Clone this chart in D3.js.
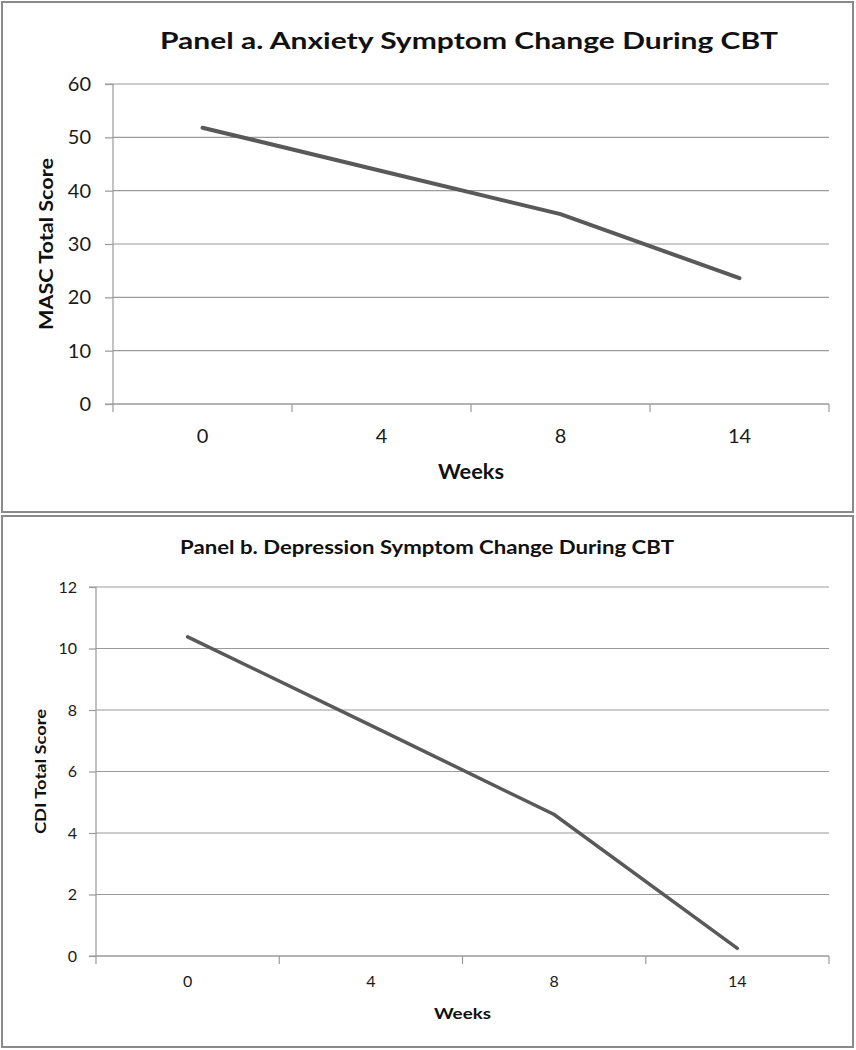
<!DOCTYPE html>
<html><head><meta charset="utf-8">
<script src="https://cdn.jsdelivr.net/npm/d3@7"></script>
<style>body{margin:0;background:#fff}svg{display:block}</style>
</head><body>
<script>
const weeks = ["0","4","8","14"];
const masc = [51.8, 43.7, 35.6, 23.6];
const cdi = [10.38, 7.5, 4.6, 0.25];
const mascTicks = [0,10,20,30,40,50,60];
const cdiTicks = [0,2,4,6,8,10,12];

const svg = d3.select("body").append("svg").attr("width",856).attr("height",1050)
  .style("font-family","Lato, 'Open Sans', sans-serif");

function panel(cfg){
  const g = svg.append("g");
  g.append("rect").attr("x",cfg.box[0]).attr("y",cfg.box[1]).attr("width",cfg.box[2]).attr("height",cfg.box[3])
    .attr("fill","#fff").attr("stroke","#8a8a8a").attr("stroke-width",2);
  const x = d3.scaleBand().domain(cfg.cats).range([cfg.left,cfg.right]);
  const y = d3.scaleLinear().domain([0,cfg.max]).range([cfg.bottom,cfg.top]);
  // gridlines
  g.append("g").selectAll("line").data(cfg.ticks).join("line")
    .attr("x1",cfg.left).attr("x2",cfg.right).attr("y1",d=>y(d)).attr("y2",d=>y(d))
    .attr("stroke","#9a9a9a").attr("stroke-width",1.2);
  // y axis
  const ya = g.append("g").attr("transform",`translate(${cfg.left},0)`)
    .call(d3.axisLeft(y).tickValues(cfg.ticks).tickSize(cfg.tick).tickPadding(cfg.ypad));
  ya.select(".domain").attr("stroke","#9a9a9a").attr("stroke-width",1.2).attr("d",`M-${cfg.tick},${cfg.bottom}H0V${cfg.top}H-${cfg.tick}`);
  ya.selectAll(".tick line").attr("stroke","#9a9a9a").attr("stroke-width",1.2);
  ya.selectAll("text").attr("font-size",cfg.fs).attr("fill","#1a1a1a").style("font-family","Lato, sans-serif");
  // x axis
  const xa = g.append("g").attr("transform",`translate(0,${cfg.bottom})`)
    .call(d3.axisBottom(x).tickSize(0).tickPadding(cfg.xpad));
  xa.select(".domain").remove();
  xa.selectAll("text").attr("font-size",cfg.fs).attr("fill","#1a1a1a").style("font-family","Lato, sans-serif");
  const bounds = cfg.cats.map(c=>x(c)).concat([cfg.right]);
  g.append("line").attr("x1",cfg.left).attr("x2",cfg.right).attr("y1",cfg.bottom).attr("y2",cfg.bottom)
    .attr("stroke","#9a9a9a").attr("stroke-width",1.2);
  g.append("g").selectAll("line").data(bounds).join("line")
    .attr("x1",d=>d).attr("x2",d=>d).attr("y1",cfg.bottom).attr("y2",cfg.bottom+8)
    .attr("stroke","#9a9a9a").attr("stroke-width",1.2);
  // line
  const line = d3.line().x((d,i)=>x(cfg.cats[i])+x.bandwidth()/2).y(d=>y(d));
  g.append("path").datum(cfg.vals).attr("d",line).attr("fill","none")
    .attr("stroke","#595959").attr("stroke-width",cfg.lw).attr("stroke-linecap","round");
  // titles
  g.append("text").attr("x",cfg.titleX).attr("y",cfg.titleY).attr("text-anchor","middle")
    .attr("font-weight","bold").attr("font-size",cfg.tfs).attr("fill","#111")
    .attr("textLength",cfg.titleW).attr("lengthAdjust","spacingAndGlyphs").text(cfg.title);
  g.append("text").attr("x",(cfg.left+cfg.right)/2).attr("y",cfg.xtY).attr("text-anchor","middle")
    .attr("font-weight","bold").attr("font-size",cfg.afs).attr("fill","#111")
    .attr("textLength",cfg.xtW).attr("lengthAdjust","spacingAndGlyphs").text("Weeks");
  g.append("text").attr("transform",`translate(${cfg.ytX},${(cfg.top+cfg.bottom)/2}) rotate(-90)`)
    .attr("text-anchor","middle").attr("font-weight","bold").attr("font-size",cfg.yfs).attr("fill","#111")
    .attr("textLength",cfg.ytW).attr("lengthAdjust","spacingAndGlyphs").text(cfg.ytitle);
}

panel({box:[2,2,851,510], cats:weeks, vals:masc, ticks:mascTicks, max:60,
  left:113, right:829, top:84, bottom:404, tick:8, ypad:14, xpad:25, fs:20, lw:4,
  title:"Panel a. Anxiety Symptom Change During CBT", titleX:469, titleY:49, tfs:22, titleW:618,
  xtY:479, afs:20, xtW:66, ytX:53, yfs:18, ytW:172, ytitle:"MASC Total Score"});

panel({box:[2,516,851,531], cats:weeks, vals:cdi, ticks:cdiTicks, max:12,
  left:96, right:829, top:587, bottom:956, tick:7, ypad:12, xpad:20, fs:16, lw:3.5,
  title:"Panel b. Depression Symptom Change During CBT", titleX:427, titleY:554, tfs:18, titleW:494,
  xtY:1019, afs:16, xtW:57, ytX:46, yfs:16, ytW:125, ytitle:"CDI Total Score"});
</script>
</body></html>
